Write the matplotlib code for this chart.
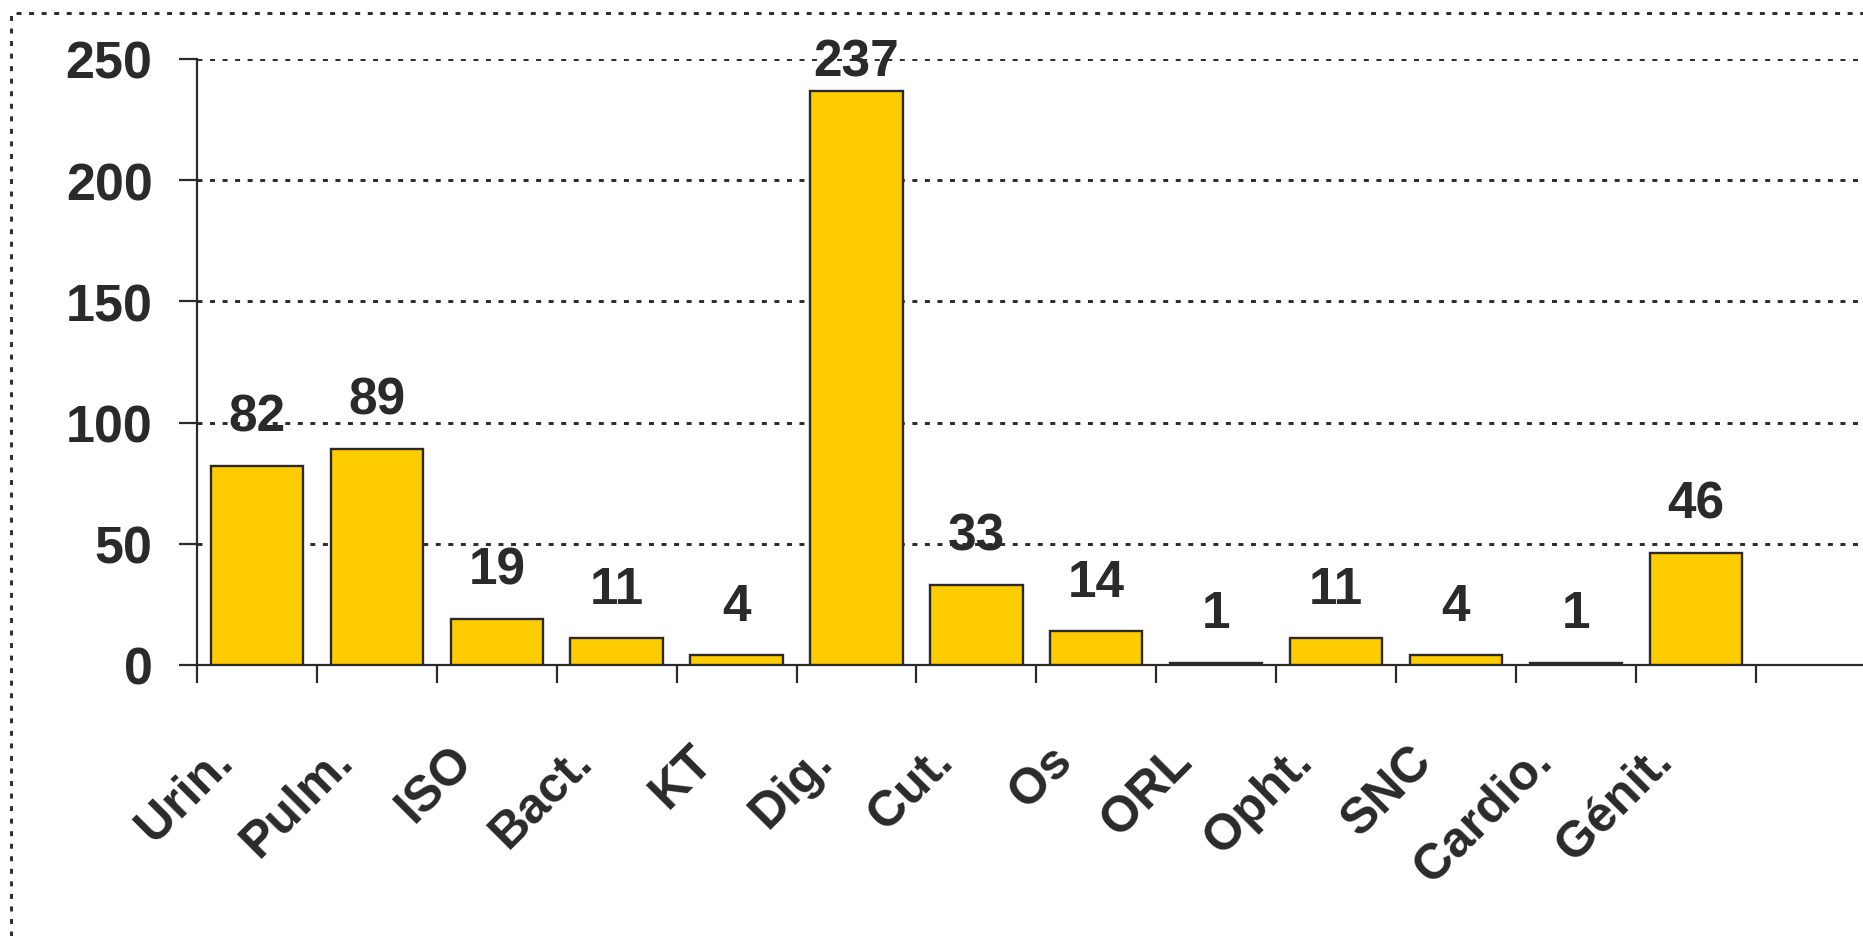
import numpy as np
import matplotlib
matplotlib.use("Agg")
import matplotlib.pyplot as plt
from matplotlib.lines import Line2D
from matplotlib.transforms import ScaledTranslation

# data
categories = ["Urin.", "Pulm.", "ISO", "Bact.", "KT", "Dig.", "Cut.", "Os",
              "ORL", "Opht.", "SNC", "Cardio.", "Génit."]
counts = [82, 89, 19, 11, 4, 237, 33, 14, 1, 11, 4, 1, 46]
yticks = [0, 50, 100, 150, 200, 250]

ink = "#2a2a2a"
bar_color = "#FFCC00"

plt.rcParams["font.family"] = ["Liberation Sans", "DejaVu Sans"]
plt.rcParams["font.weight"] = "bold"

W, H, DPI = 1863, 937, 100
fig = plt.figure(figsize=(W / DPI, H / DPI), dpi=DPI)
fig.patch.set_facecolor("white")

# plot area (pixel measurements of the reference)
left, right, top, bottom = 197, W, 60, 666
ax = fig.add_axes([left / W, 1 - bottom / H, (right - left) / W, (bottom - top) / H])

x = np.arange(len(categories))
slot = 119.9  # px per category
ax.set_xlim(-0.5, -0.5 + (right - left) / slot)
ax.set_ylim(0, 250)

# grid
for v in yticks[1:]:
    ax.axhline(v, color=ink, lw=2.1, linestyle=(0, (1.7, 2.6)), zorder=1)

ax.bar(x, counts, width=0.77, color=bar_color, edgecolor=ink, linewidth=1.7, zorder=3)

# value labels above bars, kept inside the plot area
px_per_unit = (bottom - top) / 250
for xi, v in zip(x, counts):
    y = min(v + 35.5 / px_per_unit, 243)
    ax.text(xi, y, str(v), ha="center", va="baseline", fontsize=37,
            fontweight="bold", color=ink, zorder=4)

# axes styling
for s in ["top", "right"]:
    ax.spines[s].set_visible(False)
for s in ["left", "bottom"]:
    ax.spines[s].set_color(ink)
    ax.spines[s].set_linewidth(1.6)

ax.set_yticks(yticks)
ax.set_yticklabels([str(t) for t in yticks], fontsize=37.5, fontweight="bold", color=ink)
ax.tick_params(axis="y", length=13, width=1.6, color=ink, pad=19)

ax.set_xticks(x)
ax.set_xticklabels(categories, rotation=45, ha="right", va="baseline",
                   rotation_mode="anchor", fontsize=36, fontweight="bold", color=ink)
ax.tick_params(axis="x", which="major", length=0, pad=70)
ax.set_xticks(np.arange(-0.5, len(categories), 1.0), minor=True)
ax.tick_params(axis="x", which="minor", length=13, width=1.6, color=ink, direction="out")
shift = ScaledTranslation(-0.22, 0, fig.dpi_scale_trans)
for lab in ax.get_xticklabels():
    lab.set_transform(lab.get_transform() + shift)

# dotted outer frame (top and left edges visible)
frame = Line2D([11 / W, 11 / W, 1.0], [0.0, 1 - 14 / H, 1 - 14 / H],
               transform=fig.transFigure, color=ink, lw=2.1,
               linestyle=(0, (1.7, 2.6)))
fig.add_artist(frame)

fig.savefig("out.png", dpi=DPI)
